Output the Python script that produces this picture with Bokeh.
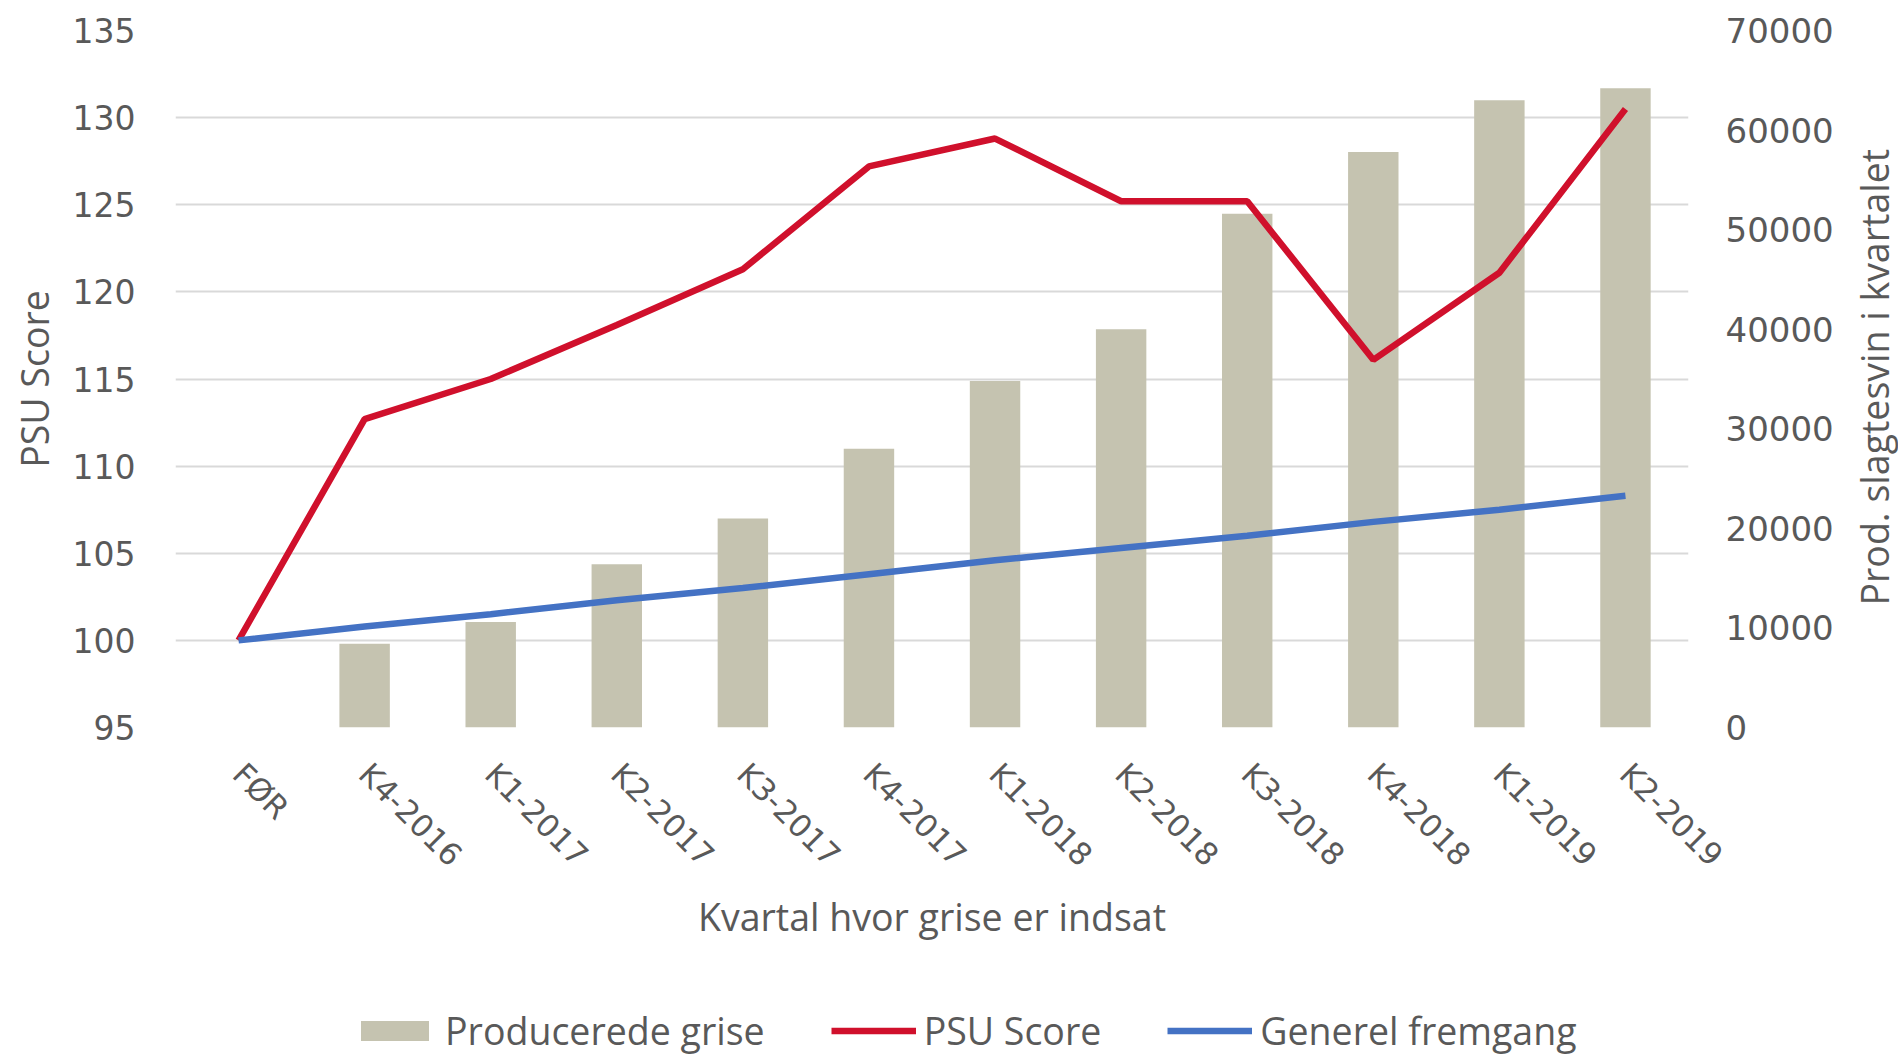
import math
from bokeh.plotting import figure
from bokeh.layouts import column
from bokeh.models import (Range1d, FactorRange, LinearAxis, FixedTicker, Legend,
                          LegendItem, ColumnDataSource)
from bokeh.embed import file_html
from bokeh.resources import INLINE

# ---- data ----
kvartaler = ["FØR", "K4-2016", "K1-2017", "K2-2017", "K3-2017", "K4-2017",
             "K1-2018", "K2-2018", "K3-2018", "K4-2018", "K1-2019", "K2-2019"]
producerede_grise = [0, 8400, 10600, 16400, 21000, 28000, 34800, 40000,
                     51600, 57800, 63000, 64200]
psu_score = [100.0, 112.7, 115.0, 118.1, 121.3, 127.2, 128.8, 125.2,
             125.2, 116.1, 121.1, 130.5]
generel_fremgang = [100.0, 100.8, 101.5, 102.3, 103.0, 103.8, 104.6, 105.3,
                    106.0, 106.8, 107.5, 108.3]
venstre_ticks = [95, 100, 105, 110, 115, 120, 125, 130, 135]
hoejre_ticks = [0, 10000, 20000, 30000, 40000, 50000, 60000, 70000]
hoejre_titel = "Prod. slagtesvin i kvartalet"
serie_navne = ["Producerede grise", "PSU Score", "Generel fremgang"]

src = ColumnDataSource(dict(k=kvartaler, prod=producerede_grise,
                            psu=psu_score, gen=generel_fremgang))

TXT = "#595959"
TITLE_SIZE = "37.5px"
BAR_COLOR = "#C5C3B0"
RED = "#D0102C"
BLUE = "#4472C4"
LW = 6.5

p = figure(x_range=FactorRange(*kvartaler), y_range=Range1d(95, 135),
           frame_width=1513, frame_height=697,
           min_border_left=175, min_border_right=210,
           min_border_top=30, min_border_bottom=223,
           output_backend="svg", toolbar_location=None)
p.extra_y_ranges = {"prod": Range1d(0, 70000)}
p.outline_line_color = None
p.background_fill_color = "white"
p.border_fill_color = "white"

bars = p.vbar(x="k", top="prod", bottom=0, width=0.4, source=src,
              y_range_name="prod", fill_color=BAR_COLOR, line_color=None)
red = p.line(x="k", y="psu", source=src, line_color=RED, line_width=LW)
blue = p.line(x="k", y="gen", source=src, line_color=BLUE, line_width=LW)

# grid
p.xgrid.grid_line_color = None
p.ygrid.ticker = FixedTicker(ticks=venstre_ticks)
p.ygrid.grid_line_color = "#D9D9D9"
p.ygrid.grid_line_width = 2

# left axis
ya = p.yaxis[0]
ya.ticker = FixedTicker(ticks=venstre_ticks)
ya.axis_line_color = None
ya.major_tick_line_color = None
ya.minor_tick_line_color = None
ya.major_label_text_font = "DejaVu Sans"
ya.major_label_text_font_size = "33px"
ya.major_label_text_color = TXT
ya.major_label_standoff = 34
ya.axis_label = "PSU Score"
ya.axis_label_text_font = "Open Sans"
ya.axis_label_text_font_size = TITLE_SIZE
ya.axis_label_text_font_style = "normal"
ya.axis_label_text_color = TXT
ya.axis_label_standoff = 10

# right axis
ra = LinearAxis(y_range_name="prod", ticker=FixedTicker(ticks=hoejre_ticks))
ra.axis_line_color = None
ra.major_tick_line_color = None
ra.minor_tick_line_color = None
ra.major_label_text_font = "DejaVu Sans"
ra.major_label_text_font_size = "34px"
ra.major_label_text_color = TXT
ra.major_label_standoff = 31
p.add_layout(ra, "right")

# right-hand title, read bottom to top: a single label on an outer right axis,
# starting at the point where the reference's title starts
titel_start = 102.0
rt = LinearAxis(ticker=FixedTicker(ticks=[titel_start]),
                major_label_overrides={titel_start: hoejre_titel})
rt.axis_line_color = None
rt.major_tick_line_color = None
rt.minor_tick_line_color = None
rt.major_label_orientation = math.pi / 2
rt.major_label_text_font = "Open Sans"
rt.major_label_text_font_size = TITLE_SIZE
rt.major_label_text_color = TXT
rt.major_label_standoff = 32
p.add_layout(rt, "right")

# x axis
xa = p.xaxis[0]
xa.axis_line_color = None
xa.major_tick_line_color = None
xa.minor_tick_line_color = None
xa.major_label_orientation = -math.pi / 4
xa.major_label_text_font = "DejaVu Sans"
xa.major_label_text_font_size = "31px"
xa.major_label_text_color = TXT
xa.major_label_standoff = 35
xa.axis_label = "Kvartal hvor grise er indsat"
xa.axis_label_text_font = "Open Sans"
xa.axis_label_text_font_size = TITLE_SIZE
xa.axis_label_text_font_style = "normal"
xa.axis_label_text_color = TXT
xa.axis_label_standoff = 2

# legend strip under the chart (its own frame, aligned with the chart's frame)
LH = 108
q = figure(width=1898, height=LH, x_range=Range1d(0, 1), y_range=Range1d(0, 1),
           x_axis_type=None, y_axis_type=None, min_border=0,
           output_backend="svg", toolbar_location=None)
q.grid.visible = False
q.outline_line_color = None
q.background_fill_color = "white"
q.border_fill_color = "white"
# hidden stand-ins that only lend their style to the legend swatches
lb = q.vbar(x="gen", top="psu", width=0.1, source=src, fill_color=BAR_COLOR,
            line_color=None, visible=False)
lr = q.line(x="gen", y="psu", source=src, line_color=RED, line_width=LW,
            visible=False)
lbl = q.line(x="gen", y="psu", source=src, line_color=BLUE, line_width=LW,
             visible=False)

legend = Legend(items=[LegendItem(label=serie_navne[0], renderers=[lb]),
                       LegendItem(label=serie_navne[1], renderers=[lr]),
                       LegendItem(label=serie_navne[2], renderers=[lbl])],
                orientation="horizontal", location=(177, 2),
                border_line_color=None, background_fill_alpha=0,
                inactive_fill_alpha=0,
                label_text_font="Open Sans", label_text_font_size=TITLE_SIZE,
                label_text_color=TXT, glyph_width=85, glyph_height=25,
                spacing=66, label_standoff=8, padding=0, margin=0)
q.add_layout(legend, "center")

layout = column(p, q, spacing=0)
open("out.html", "w").write(file_html(layout, INLINE))
